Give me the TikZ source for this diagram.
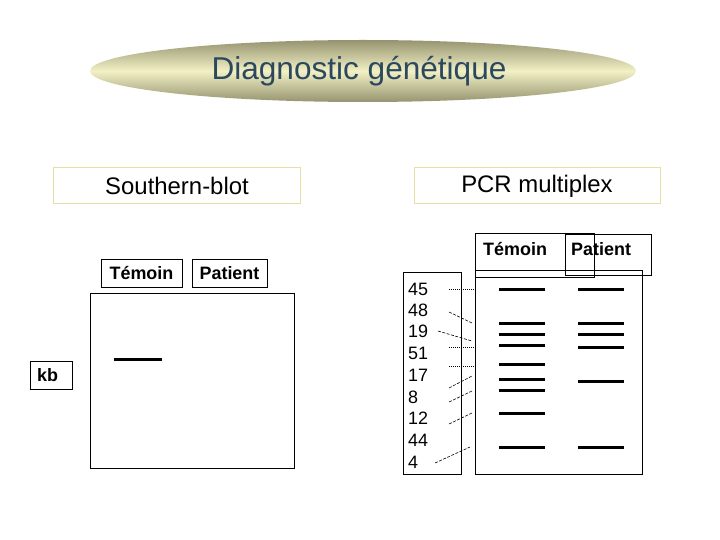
\documentclass[tikz,border=0pt]{standalone}
\usepackage{fontspec}
\setmainfont{Liberation Sans}
\begin{document}
\begin{tikzpicture}[x=1bp,y=-1bp,
  titlecol/.style={text={rgb,255:red,44;green,72;blue,94}},
  headbox/.style={draw={rgb,255:red,230;green,222;blue,165},line width=1bp,minimum width=246bp,minimum height=36bp,inner sep=0pt,font=\fontsize{24}{28}\selectfont},
  labbox/.style={draw=black,line width=1bp,inner sep=0pt,font=\fontsize{18}{20}\selectfont\bfseries},
  gelbox/.style={draw=black,line width=1bp},
  band/.style={line width=3bp},
  numtxt/.style={font=\fontsize{18}{20}\selectfont,anchor=west,inner sep=0pt},
  dotl/.style={line width=0.7bp,dash pattern=on 1bp off 1bp},
  dashl/.style={line width=0.6bp,dash pattern=on 3bp off 1.5bp}]
\useasboundingbox (0,0) rectangle (720,540);
% title ellipse
\shade[top color={rgb,255:red,150;green,148;blue,112},bottom color={rgb,255:red,150;green,148;blue,112},middle color={rgb,255:red,242;green,240;blue,196}]
  (363,71) ellipse [x radius=273, y radius=31];
\node[titlecol,font=\fontsize{31.7}{36}\selectfont,inner sep=0pt] (title) at (359,71) {Diagnostic génétique};
% headers
\node[headbox] (sb) at (177,186) {Southern-blot};
\node[headbox] (pcr) at (537,186) {PCR multiplex};
% Southern blot
\node[labbox,minimum width=81bp,minimum height=28bp] (sbt) at (141.5,273.5) {Témoin};
\node[labbox,minimum width=75bp,minimum height=28bp] (sbp) at (229.5,273.5) {Patient};
\node[gelbox,minimum width=204bp,minimum height=174bp,inner sep=0pt] (sbgel) at (192,381) {};
\node[draw=black,line width=1bp,minimum width=42bp,minimum height=28bp,inner sep=0pt] (kbbox) at (51,375) {};
\node[font=\fontsize{18}{20}\selectfont\bfseries,anchor=west,inner sep=0pt] (kb) at (37,375) {kb};
\coordinate (sbb1) at (114,359);
\coordinate (sbb2) at (162,359);
\draw[band] (sbb1) -- (sbb2);
% PCR
\node[gelbox,minimum width=167bp,minimum height=203bp,inner sep=0pt] (pgel) at (558.5,372.5) {};
\draw[line width=1bp] (475,234) rectangle (594,277.5);
\node[font=\fontsize{18}{20}\selectfont\bfseries,anchor=west,inner sep=0pt] (pt) at (483,249) {Témoin};
\draw[line width=1bp] (565,235) rectangle (651,275.5);
\node[font=\fontsize{18}{20}\selectfont\bfseries,anchor=west,inner sep=0pt] (pp) at (571,249) {Patient};
\node[gelbox,minimum width=58bp,minimum height=201bp,inner sep=0pt] (numbox) at (432,373.5) {};
\foreach \n/\y [count=\i] in {45/289,48/310,19/331,51/353,17/375,8/397,12/418,44/440,4/462}{
  \node[numtxt] (num\i) at (408,\y) {\n};
}
% bands temoin
\foreach \y [count=\i] in {289,323,334,345,364,379,390,413,447}{
  \coordinate (ta\i) at (499,\y);
  \coordinate (tb\i) at (545,\y);
  \draw[band] (ta\i) -- (tb\i);
}
% bands patient
\foreach \y [count=\i] in {289,323,334,347,381,447}{
  \coordinate (pa\i) at (578,\y);
  \coordinate (pb\i) at (624,\y);
  \draw[band] (pa\i) -- (pb\i);
}
% connectors
\coordinate (c1a) at (449,289); \coordinate (c1b) at (474,289);
\coordinate (c2a) at (449,312); \coordinate (c2b) at (472,323);
\coordinate (c3a) at (438,331); \coordinate (c3b) at (472,341);
\coordinate (c4a) at (449,347); \coordinate (c4b) at (474,347);
\coordinate (c5a) at (449,366); \coordinate (c5b) at (474,366);
\coordinate (c6a) at (449,388); \coordinate (c6b) at (472,376);
\coordinate (c7a) at (449,402); \coordinate (c7b) at (472,391);
\coordinate (c8a) at (449,424); \coordinate (c8b) at (472,413);
\coordinate (c9a) at (435,463); \coordinate (c9b) at (470,447);
\draw[dotl] (c1a) -- (c1b);
\draw[dotl] (c4a) -- (c4b);
\draw[dotl] (c5a) -- (c5b);
\draw[dashl] (c2a) -- (c2b);
\draw[dashl] (c3a) -- (c3b);
\draw[dashl] (c6a) -- (c6b);
\draw[dashl] (c7a) -- (c7b);
\draw[dashl] (c8a) -- (c8b);
\draw[dashl] (c9a) -- (c9b);
\end{tikzpicture}
\end{document}
